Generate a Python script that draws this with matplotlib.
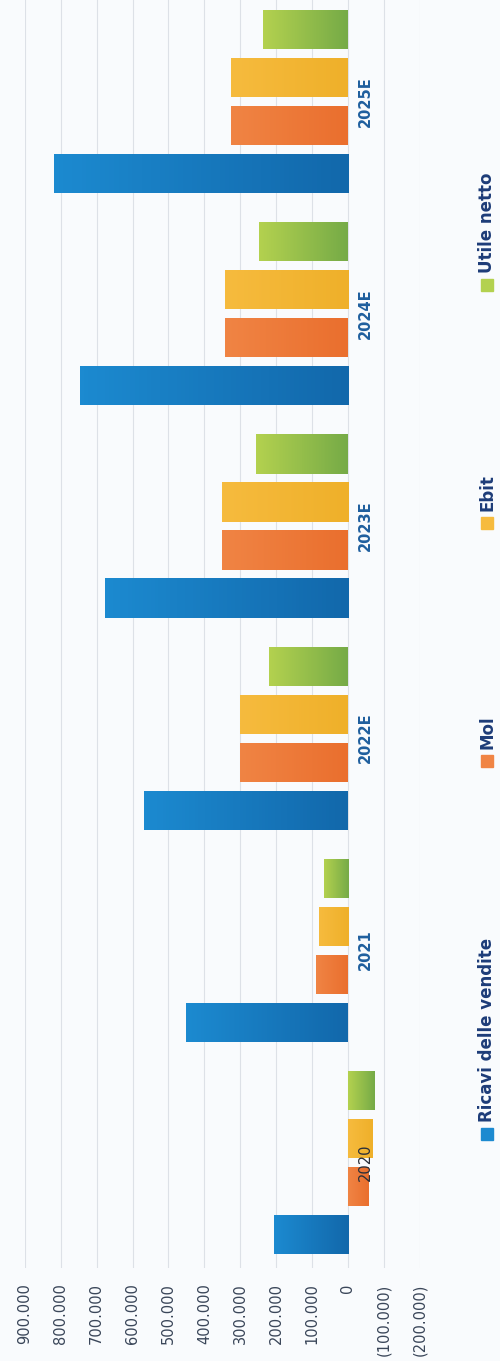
import numpy as np
import matplotlib
matplotlib.use('Agg')
import matplotlib.pyplot as plt
from matplotlib.colors import LinearSegmentedColormap
from matplotlib.patches import Rectangle

# data (euro)
years = ['2020', '2021', '2022E', '2023E', '2024E', '2025E']
ricavi = [207000, 450000, 567000, 678000, 748000, 820000]
mol = [-58000, 89000, 300000, 350000, 342000, 326000]
ebit = [-69000, 81000, 300000, 352000, 343000, 325000]
utile = [-73000, 67000, 219000, 255000, 247000, 237000]

series = [('Ricavi delle vendite', ricavi, ('#1c8ad0', '#1268ab')),
          ('Mol', mol, ('#f08444', '#ea6f2e')),
          ('Ebit', ebit, ('#f6bb3e', '#efb02a')),
          ('Utile netto', utile, ('#b3d14f', '#76ab47'))]

def fmt(v, pos=None):
    s = '{:,.0f}'.format(abs(v)).replace(',', '.')
    return '(' + s + ')' if v < 0 else s

fig = plt.figure(figsize=(5, 13.61), dpi=100, facecolor='#f9fbfd')
ax = fig.add_axes([0.05, 0.0683, 0.789, 0.9317])
ax.set_facecolor('#f9fbfd')

pitch = 0.2264
h = 0.184
grad = np.linspace(0, 1, 64).reshape(1, -1)
y = np.arange(len(years))
for k, (name, vals, cols) in enumerate(series):
    off = (k - 1.5) * pitch
    bars = ax.barh(y + off, vals, height=h, color=cols[1], zorder=2)
    cmap = LinearSegmentedColormap.from_list(name, cols)
    for b, v in zip(bars, vals):
        y0 = b.get_y()
        im = ax.imshow(grad, cmap=cmap, aspect='auto', zorder=3,
                       extent=(max(v, 0), min(v, 0), y0, y0 + h))
        im.set_clip_path(b)

ax.set_xlim(900000, -200000)
ax.set_ylim(-0.5, 5.481)
ax.set_xticks(np.arange(-200000, 900001, 100000))
ax.xaxis.set_major_formatter(plt.FuncFormatter(fmt))
ax.set_yticks([])
ax.tick_params(axis='x', length=0, labelrotation=90, pad=11,
               labelsize=10.5, labelcolor='#3a4659')
for s in ax.spines.values():
    s.set_visible(False)
ax.grid(axis='x', color='#dde1e7', lw=0.8, zorder=0)
ax.set_axisbelow(True)

for i, yr in enumerate(years):
    ax.annotate(yr, xy=(0, i), xytext=(7.5, 0), textcoords='offset points',
                ha='left', va='center', rotation=90, fontsize=10.5,
                fontweight='bold' if i else 'normal',
                color='#1f5f9e' if i else '#2a2f3a', zorder=5)

# legend, drawn by hand because the whole chart is turned on its side
leg_y = [1134, 761, 523, 285]
for (name, vals, cols), yp in zip(series, leg_y):
    yf = 1 - yp / 1361
    fig.patches.append(Rectangle((0.962, yf - 6 / 1361), 12 / 500, 12 / 1361,
                                 transform=fig.transFigure, color=cols[0]))
    fig.text(0.974, yf + 12 / 1361, name, rotation=90, ha='center', va='bottom',
             fontsize=12, fontweight='bold', color='#1d3c78')

fig.savefig('out.png', dpi=100, facecolor=fig.get_facecolor())
